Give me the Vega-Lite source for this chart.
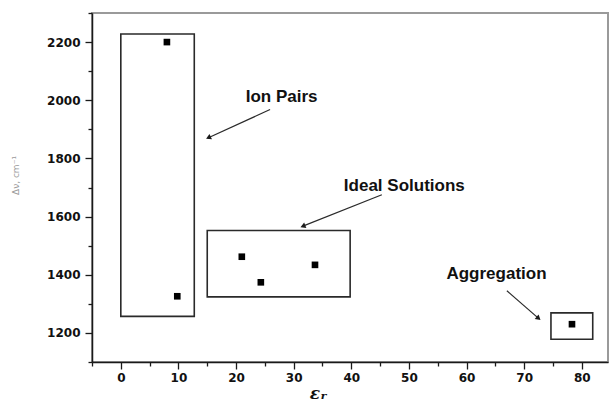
{
  "$schema": "https://vega.github.io/schema/vega-lite/v6.json",
  "width": 516,
  "height": 349,
  "autosize": "none",
  "padding": {"left": 92, "top": 13, "right": 1, "bottom": 41},
  "background": "white",
  "config": {
    "view": {"stroke": "#9a9a9a", "strokeWidth": 2},
    "axis": {"grid": false}
  },
  "datasets": {
    "points": [
      {"x": 8.0, "y": 2200},
      {"x": 9.8, "y": 1326},
      {"x": 21.0, "y": 1462},
      {"x": 24.3, "y": 1374},
      {"x": 33.7, "y": 1434},
      {"x": 78.3, "y": 1230}
    ],
    "boxes": [
      {"group": "Ion Pairs", "x": 0, "x2": 12.75, "y": 1257, "y2": 2228},
      {"group": "Ideal Solutions", "x": 15.0, "x2": 39.8, "y": 1324, "y2": 1552},
      {"group": "Aggregation", "x": 74.65, "x2": 81.9, "y": 1178, "y2": 1269}
    ],
    "arrows": [
      {"group": "Ion Pairs", "x": 25.9, "y": 1968, "x2": 15.2, "y2": 1871},
      {"group": "Ideal Solutions", "x": 45.3, "y": 1675, "x2": 31.6, "y2": 1567},
      {"group": "Aggregation", "x": 67.0, "y": 1345, "x2": 72.5, "y2": 1250}
    ],
    "labels": [
      {"group": "Ion Pairs", "x": 27.9, "y": 1993},
      {"group": "Ideal Solutions", "x": 49.2, "y": 1689},
      {"group": "Aggregation", "x": 65.2, "y": 1384}
    ]
  },
  "resolve": {"scale": {"x": "independent", "y": "independent"}},
  "layer": [
    {
      "layer": [
        {
          "data": {"name": "boxes"},
          "mark": {"type": "rect", "fill": null, "fillOpacity": 0, "stroke": "#2a2a2a", "strokeWidth": 1.6},
          "encoding": {
            "x": {
              "field": "x", "type": "quantitative", "title": "εᵣ",
              "scale": {"domain": [-5, 84.55], "nice": false, "zero": false},
              "axis": {
                "orient": "bottom",
                "values": [0, 10, 20, 30, 40, 50, 60, 70, 80],
                "format": "d",
                "tickSize": 7,
                "domainColor": "#1a1a1a", "domainWidth": 1.5,
                "tickColor": "#1a1a1a", "tickWidth": 1.3,
                "labelFont": "DejaVu Sans", "labelFontWeight": "bold", "labelFontSize": 12,
                "labelColor": "#111111", "labelPadding": 3,
                "titleFont": "DejaVu Serif", "titleFontStyle": "italic", "titleFontWeight": "bold",
                "titleFontSize": 17, "titleColor": "#111111",
                "titleX": 226, "titleY": 36, "titleBaseline": "alphabetic", "titleAlign": "center"
              }
            },
            "x2": {"field": "x2"},
            "y": {
              "field": "y", "type": "quantitative", "title": "Δν, cm⁻¹",
              "scale": {"domain": [1100, 2300], "nice": false, "zero": false},
              "axis": {
                "orient": "left",
                "values": [1200, 1400, 1600, 1800, 2000, 2200],
                "format": "d",
                "tickSize": 7,
                "domainColor": "#1a1a1a", "domainWidth": 1.5,
                "tickColor": "#1a1a1a", "tickWidth": 1.3,
                "labelFont": "DejaVu Sans", "labelFontWeight": "bold", "labelFontSize": 12,
                "labelColor": "#111111", "labelPadding": 5,
                "titleFont": "DejaVu Sans", "titleFontWeight": "normal", "titleFontSize": 9,
                "titleColor": "#9a9a9a", "titleAngle": -90,
                "titleX": -77, "titleY": 162, "titleAlign": "center", "titleBaseline": "middle"
              }
            },
            "y2": {"field": "y2"}
          }
        },
        {
          "data": {"name": "points"},
          "mark": {"type": "point", "shape": "square", "filled": true, "color": "#000000", "size": 44, "opacity": 1},
          "encoding": {
            "x": {"field": "x", "type": "quantitative", "title": "εᵣ"},
            "y": {"field": "y", "type": "quantitative", "title": "Δν, cm⁻¹"}
          }
        },
        {
          "data": {"name": "arrows"},
          "mark": {"type": "rule", "stroke": "#2a2a2a", "strokeWidth": 1.2},
          "encoding": {
            "x": {"field": "x", "type": "quantitative", "title": "εᵣ"},
            "y": {"field": "y", "type": "quantitative", "title": "Δν, cm⁻¹"},
            "x2": {"field": "x2"},
            "y2": {"field": "y2"}
          }
        },
        {
          "data": {"name": "arrows"},
          "transform": [{"filter": "datum.group === 'Ion Pairs'"}],
          "mark": {"type": "point", "shape": "triangle-up", "filled": true, "color": "#1a1a1a", "size": 35, "angle": 245, "opacity": 1},
          "encoding": {
            "x": {"field": "x2", "type": "quantitative", "title": "εᵣ"},
            "y": {"field": "y2", "type": "quantitative", "title": "Δν, cm⁻¹"}
          }
        },
        {
          "data": {"name": "arrows"},
          "transform": [{"filter": "datum.group === 'Ideal Solutions'"}],
          "mark": {"type": "point", "shape": "triangle-up", "filled": true, "color": "#1a1a1a", "size": 35, "angle": 248, "opacity": 1},
          "encoding": {
            "x": {"field": "x2", "type": "quantitative", "title": "εᵣ"},
            "y": {"field": "y2", "type": "quantitative", "title": "Δν, cm⁻¹"}
          }
        },
        {
          "data": {"name": "arrows"},
          "transform": [{"filter": "datum.group === 'Aggregation'"}],
          "mark": {"type": "point", "shape": "triangle-up", "filled": true, "color": "#1a1a1a", "size": 35, "angle": 131, "opacity": 1},
          "encoding": {
            "x": {"field": "x2", "type": "quantitative", "title": "εᵣ"},
            "y": {"field": "y2", "type": "quantitative", "title": "Δν, cm⁻¹"}
          }
        },
        {
          "data": {"name": "labels"},
          "mark": {"type": "text", "font": "Liberation Sans", "fontWeight": "bold", "fontSize": 17, "align": "center", "baseline": "alphabetic", "color": "#111111"},
          "encoding": {
            "x": {"field": "x", "type": "quantitative", "title": "εᵣ"},
            "y": {"field": "y", "type": "quantitative", "title": "Δν, cm⁻¹"},
            "text": {"field": "group"}
          }
        }
      ]
    },
    {
      "data": {"name": "points"},
      "mark": {"type": "point", "opacity": 0},
      "encoding": {
        "x": {
          "field": "x", "type": "quantitative",
          "scale": {"domain": [-5, 84.55], "nice": false, "zero": false},
          "axis": {
            "orient": "bottom", "title": null, "labels": false, "domain": false,
            "values": [-5, 5, 15, 25, 35, 45, 55, 65, 75],
            "tickSize": 4, "tickColor": "#1a1a1a", "tickWidth": 1.3
          }
        },
        "y": {
          "field": "y", "type": "quantitative",
          "scale": {"domain": [1100, 2300], "nice": false, "zero": false},
          "axis": {
            "orient": "left", "title": null, "labels": false, "domain": false,
            "values": [1100, 1300, 1500, 1700, 1900, 2100, 2300],
            "tickSize": 4, "tickColor": "#1a1a1a", "tickWidth": 1.3
          }
        }
      }
    }
  ]
}
